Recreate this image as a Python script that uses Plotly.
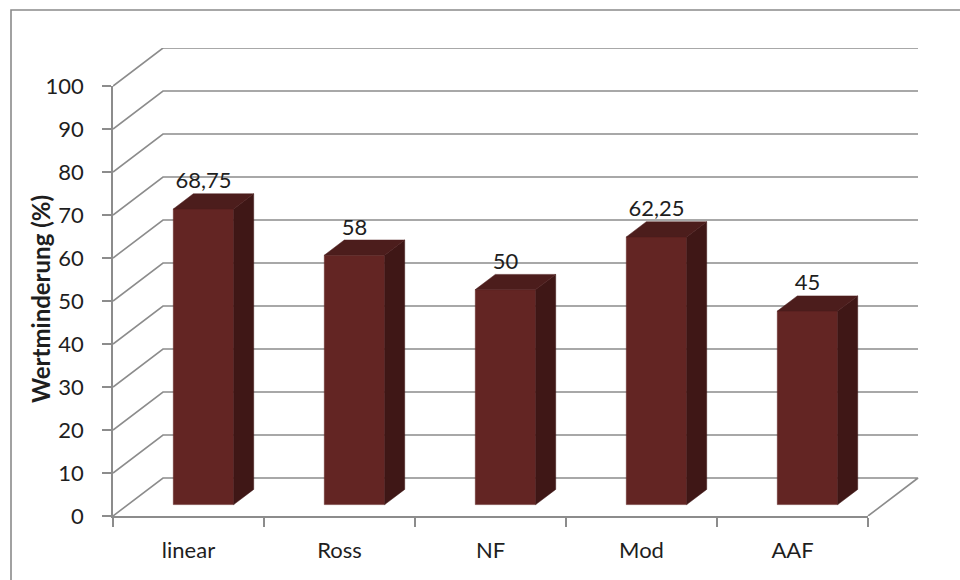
import plotly.graph_objects as go

# ---- data ----
categories = ["linear", "Ross", "NF", "Mod", "AAF"]
values = [68.75, 58, 50, 62.25, 45]
y_ticks = [0, 10, 20, 30, 40, 50, 60, 70, 80, 90, 100]
y_title = "Wertminderung (%)"

# ---- layout constants (pixels) ----
W, H = 960, 580
L, R, T, B = 113, 37, 48, 64          # outer plot box (includes back wall)
cat_px = 151.0                         # px per category
val_px = 4.3                           # px per value unit
depth_dx, depth_dy = 50.0, 38.0        # perspective offset of back wall (px)

plot_w = W - L - R
plot_h = H - T - B
front_w = cat_px * len(categories)
front_h = val_px * 100

# back-plane offset in data units
dxu = depth_dx / cat_px
dyu = depth_dy / val_px
n = len(categories)
bw = 0.2                               # half bar width (categories)
d0, d1 = 0.3, 0.7                      # bar front / back depth fraction

GRID = "#8c8c8c"
FRONT = "#632523"
SIDE = "#3f1716"
TOP = "#4c1d1c"
TXT = "#1e1e1e"
FONT = "Lato"
FS = 22

fig = go.Figure()

# invisible trace to create the front subplot (x/y)
fig.add_trace(go.Scatter(x=[0], y=[0], mode="markers", marker=dict(opacity=0),
                         xaxis="x", yaxis="y", hoverinfo="skip", showlegend=False))

# gridlines + floor on the 3D subplot (x2/y2)
gx, gy = [], []
for v in y_ticks:
    gx += [0, dxu, n + dxu]
    gy += [v, v + dyu, v + dyu]
    if v == 0:
        gx += [n]
        gy += [0]
    gx.append(None)
    gy.append(None)
fig.add_trace(go.Scatter(x=gx, y=gy, mode="lines", line=dict(color=GRID, width=1.6),
                         xaxis="x2", yaxis="y2", hoverinfo="skip", showlegend=False))

# bars
def poly(xs, ys, color):
    fig.add_trace(go.Scatter(x=xs + [xs[0]], y=ys + [ys[0]], mode="lines", fill="toself",
                             fillcolor=color, line=dict(color=color, width=0.5),
                             xaxis="x2", yaxis="y2", hoverinfo="skip", showlegend=False))

for i, v in enumerate(values):
    c = i + 0.5
    xl0, xr0 = c - bw + d0 * dxu, c + bw + d0 * dxu
    xl1, xr1 = c - bw + d1 * dxu, c + bw + d1 * dxu
    yb0, yb1 = d0 * dyu, d1 * dyu
    # front
    poly([xl0, xr0, xr0, xl0], [yb0, yb0, v + yb0, v + yb0], FRONT)
    # side
    poly([xr0, xr1, xr1, xr0], [yb0, yb1, v + yb1, v + yb0], SIDE)
    # top
    poly([xl0, xr0, xr1, xl1], [v + yb0, v + yb0, v + yb1, v + yb1], TOP)

# value labels
lab_x = [i + 0.5 + d0 * dxu for i in range(n)]
lab_y = [v + d1 * dyu for v in values]
lab_t = [(f"{v:g}").replace(".", ",") for v in values]
fig.add_trace(go.Scatter(x=lab_x, y=lab_y, text=lab_t, mode="text", textposition="top center",
                         textfont=dict(family=FONT, size=FS, color=TXT), cliponaxis=False,
                         xaxis="x2", yaxis="y2", hoverinfo="skip", showlegend=False))

# border (chart area frame)
def px2paper_x(p):
    return (p - L) / plot_w

def px2paper_y(p):
    return (H - B - p) / plot_h

fig.add_shape(type="rect", xref="paper", yref="paper",
              x0=px2paper_x(11), x1=px2paper_x(975), y0=px2paper_y(595), y1=px2paper_y(10),
              line=dict(color="#8a8a8a", width=1.6), fillcolor="rgba(0,0,0,0)", layer="below")

fig.update_layout(
    width=W, height=H,
    margin=dict(l=L, r=R, t=T, b=B, pad=0),
    paper_bgcolor="white", plot_bgcolor="rgba(0,0,0,0)",
    showlegend=False,
    font=dict(family=FONT, size=FS, color=TXT),
    xaxis=dict(domain=[0, front_w / plot_w], anchor="y", range=[0, n],
               tickmode="array", tickvals=list(range(n + 1)), ticktext=[""] * (n + 1),
               ticks="outside", ticklen=9, tickwidth=1.6, tickcolor=GRID,
               showline=True, linecolor=GRID, linewidth=1.6, showgrid=False, zeroline=False,
               fixedrange=True),
    yaxis=dict(domain=[0, front_h / plot_h], anchor="x", range=[0, 100],
               tickmode="array", tickvals=y_ticks, ticktext=[str(t) for t in y_ticks],
               ticks="outside", ticklen=9, tickwidth=1.6, tickcolor=GRID,
               ticklabelstandoff=14,
               tickfont=dict(family=FONT, size=FS, color=TXT),
               showline=True, linecolor=GRID, linewidth=1.6, showgrid=False, zeroline=False,
               fixedrange=True),
    xaxis2=dict(domain=[0, 1], anchor="y2", range=[0, plot_w / cat_px],
                tickmode="array", tickvals=[i + 0.5 for i in range(n)], ticktext=categories,
                ticks="", ticklabelstandoff=19,
                tickfont=dict(family=FONT, size=FS, color=TXT),
                showline=False, showgrid=False, zeroline=False, fixedrange=True),
    yaxis2=dict(domain=[0, 1], anchor="x2", range=[0, plot_h / val_px],
                showticklabels=False, ticks="", showline=False, showgrid=False,
                zeroline=False, fixedrange=True),
    annotations=[dict(text="<b>" + y_title + "</b>", xref="paper", yref="paper",
                      x=px2paper_x(40), y=px2paper_y(299), textangle=-90,
                      showarrow=False, font=dict(family=FONT, size=24, color=TXT),
                      xanchor="center", yanchor="middle")],
)

fig.write_html("out.html")
